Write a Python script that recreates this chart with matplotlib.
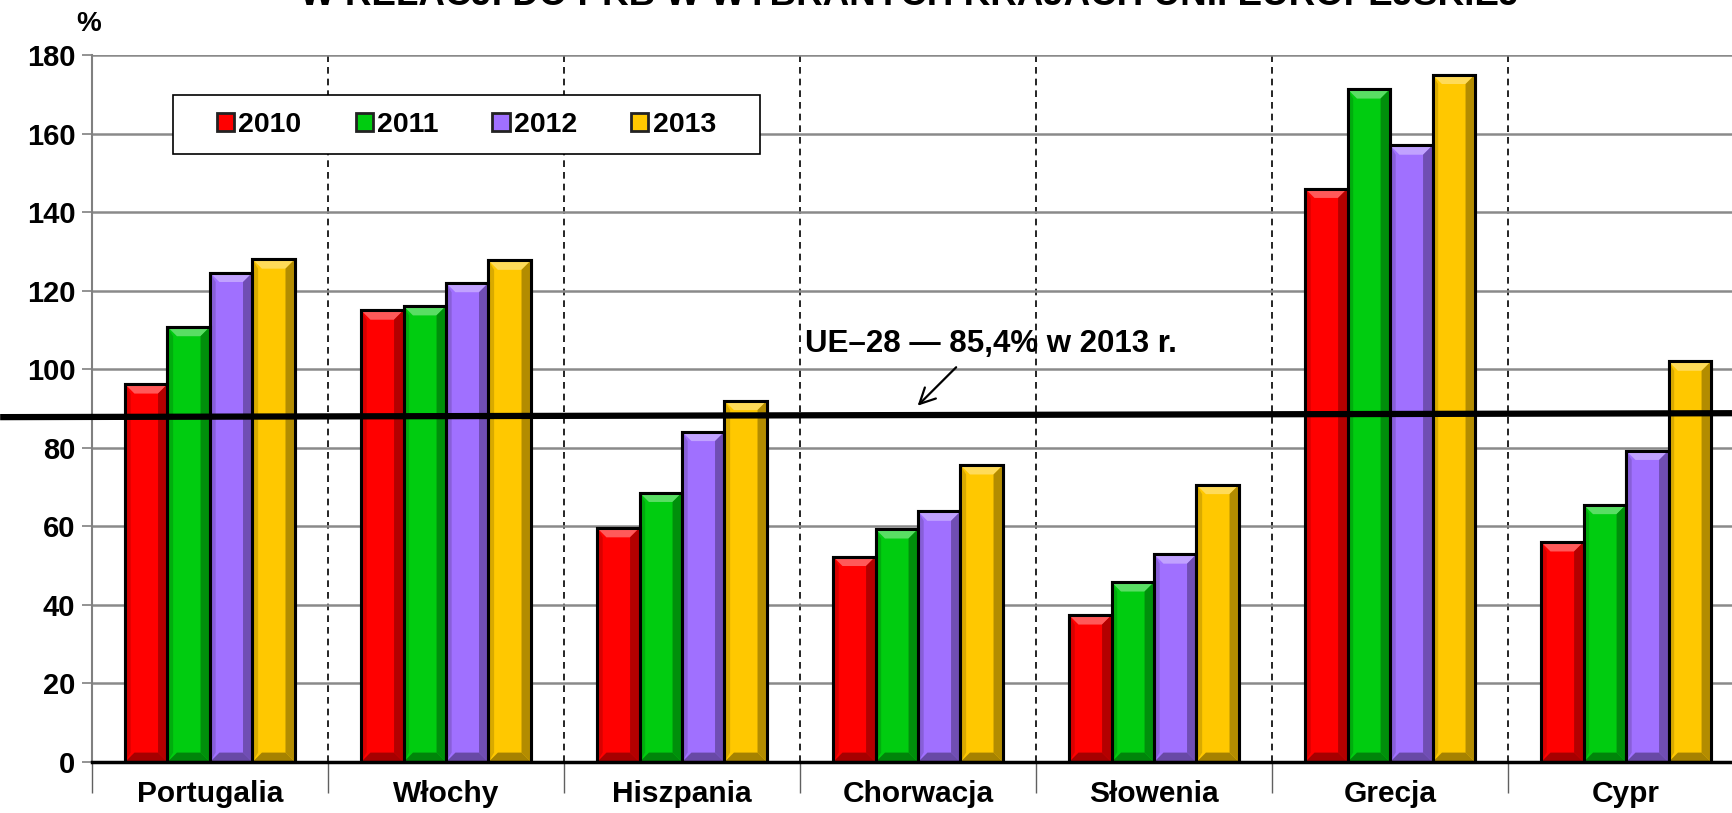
import numpy as np
import matplotlib
matplotlib.use('Agg')
import matplotlib.pyplot as plt
from matplotlib.patches import Polygon, Rectangle
from matplotlib.colors import to_rgb

# ========== 数据 ==========
countries = ['Portugalia', 'Włochy', 'Hiszpania', 'Chorwacja', 'Słowenia', 'Grecja', 'Cypr']
years = ['2010', '2011', '2012', '2013']
v2010 = [96.2, 115.0, 59.6, 52.3, 37.4, 146.0, 56.0]
v2011 = [110.8, 116.1, 68.6, 59.3, 45.8, 171.3, 65.5]
v2012 = [124.6, 122.0, 84.1, 63.8, 52.9, 157.0, 79.3]
v2013 = [128.0, 127.7, 92.0, 75.6, 70.6, 175.0, 102.0]
series = [v2010, v2011, v2012, v2013]
colors = ['#FF0000', '#00CC10', '#A070FF', '#FFC800']

eu_label = 'UE–28 — 85,4% w 2013 r.'
eu_start, eu_end = 87.8, 88.8
title = 'W RELACJI DO PKB W WYBRANYCH KRAJACH UNII EUROPEJSKIEJ'

plt.rcParams['font.family'] = ['Liberation Sans', 'DejaVu Sans']
plt.rcParams['font.weight'] = 'bold'


def shade(c, f):
    r, g, b = to_rgb(c)
    if f > 0:
        return (r + (1 - r) * f, g + (1 - g) * f, b + (1 - b) * f)
    return (r * (1 + f), g * (1 + f), b * (1 + f))


fig = plt.figure(figsize=(17.32, 8.13), dpi=100)
ax = fig.add_axes([0.0531, 0.0627, 0.9469, 0.8697])

x = np.arange(len(countries))
bw = 0.18
offsets = (np.arange(4) - 1.5) * bw

for s, (vals, col) in enumerate(zip(series, colors)):
    bars = ax.bar(x + offsets[s], vals, bw, color=col, edgecolor='black',
                  linewidth=2.2, zorder=3, label=years[s])
    # 立体效果（斜面）
    for r in bars:
        x0, w, h = r.get_x(), r.get_width(), r.get_height()
        dx, dy = 0.04, 2.4
        top = Polygon([(x0, h), (x0 + w, h), (x0 + w - dx, h - dy), (x0 + dx, h - dy)],
                      closed=True, facecolor=shade(col, 0.35), edgecolor='none', zorder=3.5)
        right = Polygon([(x0 + w, h), (x0 + w, 0), (x0 + w - dx, dy), (x0 + w - dx, h - dy)],
                        closed=True, facecolor=shade(col, -0.3), edgecolor='none', zorder=3.5)
        left = Polygon([(x0, h), (x0, 0), (x0 + dx * 0.6, dy), (x0 + dx * 0.6, h - dy)],
                       closed=True, facecolor=shade(col, -0.15), edgecolor='none', zorder=3.5)
        bot = Polygon([(x0, 0), (x0 + w, 0), (x0 + w - dx, dy), (x0 + dx, dy)],
                      closed=True, facecolor=shade(col, -0.35), edgecolor='none', zorder=3.5)
        for p in (top, right, left, bot):
            ax.add_patch(p)
        ax.add_patch(Rectangle((x0, 0), w, h, facecolor='none', edgecolor='black',
                               linewidth=2.2, zorder=4))

# 坐标轴
ax.set_yticks(np.arange(0, 181, 20))
ax.tick_params(axis='y', labelsize=21, length=7, width=1.2, color='#808080', pad=5)
ax.set_xticks(np.arange(-0.5, 6.6, 1.0))
ax.set_xticklabels([])
ax.tick_params(axis='x', which='major', length=22, width=1.0, color='#606060')
ax.set_xticks(x, minor=True)
ax.set_xticklabels(countries, minor=True, fontsize=21.5, fontweight='bold')
ax.tick_params(axis='x', which='minor', length=0, pad=13)
ax.set_ylim(0, 180)
ax.set_xlim(-0.5, 6.449)

ax.yaxis.grid(True, color='#8a8a8a', linewidth=1.8, zorder=0)
for b in np.arange(0.5, 6.5, 1.0):
    ax.axvline(b, color='black', linestyle=(0, (4, 3)), linewidth=1.2, zorder=1)

for sp in ['top', 'right']:
    ax.spines[sp].set_visible(False)
ax.spines['left'].set_color('#808080')
ax.spines['left'].set_linewidth(1.5)
ax.spines['bottom'].set_color('black')
ax.spines['bottom'].set_linewidth(2.5)
ax.spines['bottom'].set_zorder(5)

# 均值线 UE-28
ax.plot([-0.889, 6.449], [eu_start, eu_end], color='black', linewidth=4.5,
        zorder=6, clip_on=False, solid_capstyle='butt')
ax.text(2.52, 104.5, eu_label, fontsize=22.5, fontweight='bold', ha='left', va='baseline', zorder=7)
ax.annotate('', xy=(2.99, 90.2), xytext=(3.17, 101.0),
            arrowprops=dict(arrowstyle='->', color='black', lw=1.6, mutation_scale=28), zorder=7)

# 图例（单独画框）
ax.add_patch(Rectangle((0.0494, 0.86), 0.3579, 0.083, transform=ax.transAxes,
                       facecolor='white', edgecolor='black', linewidth=1.2, zorder=8))
leg = ax.legend(loc='center', bbox_to_anchor=(0.2283, 0.9015), ncol=4, frameon=False,
                handlelength=0.6, handleheight=0.6, handletextpad=0.15,
                columnspacing=1.9, prop={'weight': 'bold', 'size': 20.5})
for h in leg.legend_handles:
    h.set_linewidth(2.0)
    h.set_edgecolor('#222222')
leg.set_zorder(9)

fig.text(0.051, 0.97, '%', fontsize=20, fontweight='bold', ha='center', va='center')
fig.text(0.525, 0.984, title, fontsize=26.5, fontweight='bold', ha='center', va='bottom')

fig.savefig('out.png', dpi=100)
